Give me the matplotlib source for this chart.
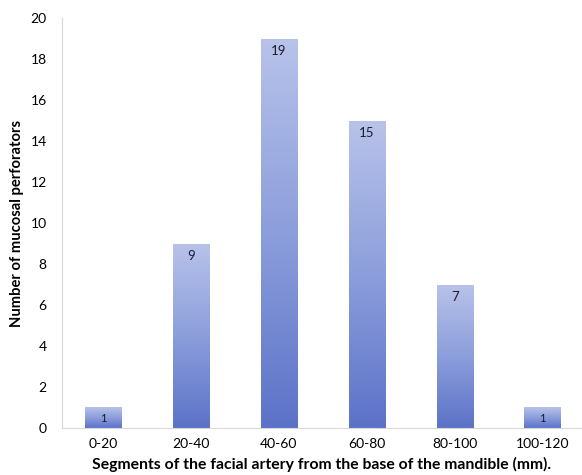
import matplotlib
matplotlib.use("Agg")
import matplotlib.pyplot as plt
import numpy as np
from matplotlib.colors import LinearSegmentedColormap

categories = ["0-20", "20-40", "40-60", "60-80", "80-100", "100-120"]
values = [1, 9, 19, 15, 7, 1]
yticks = [0, 2, 4, 6, 8, 10, 12, 14, 16, 18, 20]

plt.rcParams['font.family'] = ['Lato', 'DejaVu Sans']

fig = plt.figure(figsize=(5.82, 4.75), dpi=100)
ax = fig.add_axes([0.1065, 0.099, 0.8935, 0.863])

x = np.arange(len(categories))
bars = ax.bar(x, values, width=0.41, color='none', edgecolor='none', zorder=2)

cmap = LinearSegmentedColormap.from_list("g", ["#5c72c8", "#8c9edb", "#b8c3ea"])
grad = np.linspace(0, 1, 256).reshape(-1, 1)
for b in bars:
    x0, y0 = b.get_x(), b.get_y()
    w, h = b.get_width(), b.get_height()
    im = ax.imshow(grad, cmap=cmap, aspect='auto', origin='lower',
                   extent=[x0, x0 + w, y0, y0 + h], zorder=2)
    im.set_clip_path(b)

for xi, v in zip(x, values):
    if v > 1:
        ax.text(xi, v - 0.6, str(v), ha='center', va='center', fontsize=9.5, color='#1a1a2a', zorder=3)
    else:
        ax.text(xi, v / 2 - 0.05, str(v), ha='center', va='center', fontsize=8, color='#1a1a2a', zorder=3)

ax.set_xlim(-0.47, 5.45)
ax.set_ylim(0, 20)
ax.set_xticks(x)
ax.set_xticklabels(categories, fontsize=10)
ax.set_yticks(yticks)
ax.tick_params(axis='y', labelsize=10, length=0, pad=11)
ax.tick_params(axis='x', length=0, pad=7)
for s in ['top', 'right']:
    ax.spines[s].set_visible(False)
ax.spines['left'].set_color('#d9d9d9')
ax.spines['bottom'].set_color('#d9d9d9')

ax.set_xlabel("Segments of the facial artery from the base of the mandible (mm).",
              fontsize=11.3, fontweight='bold', labelpad=5)
ax.set_ylabel("Number of mucosal perforators", fontsize=10.6, fontweight='bold', labelpad=5)

fig.savefig("out.png", dpi=100)
